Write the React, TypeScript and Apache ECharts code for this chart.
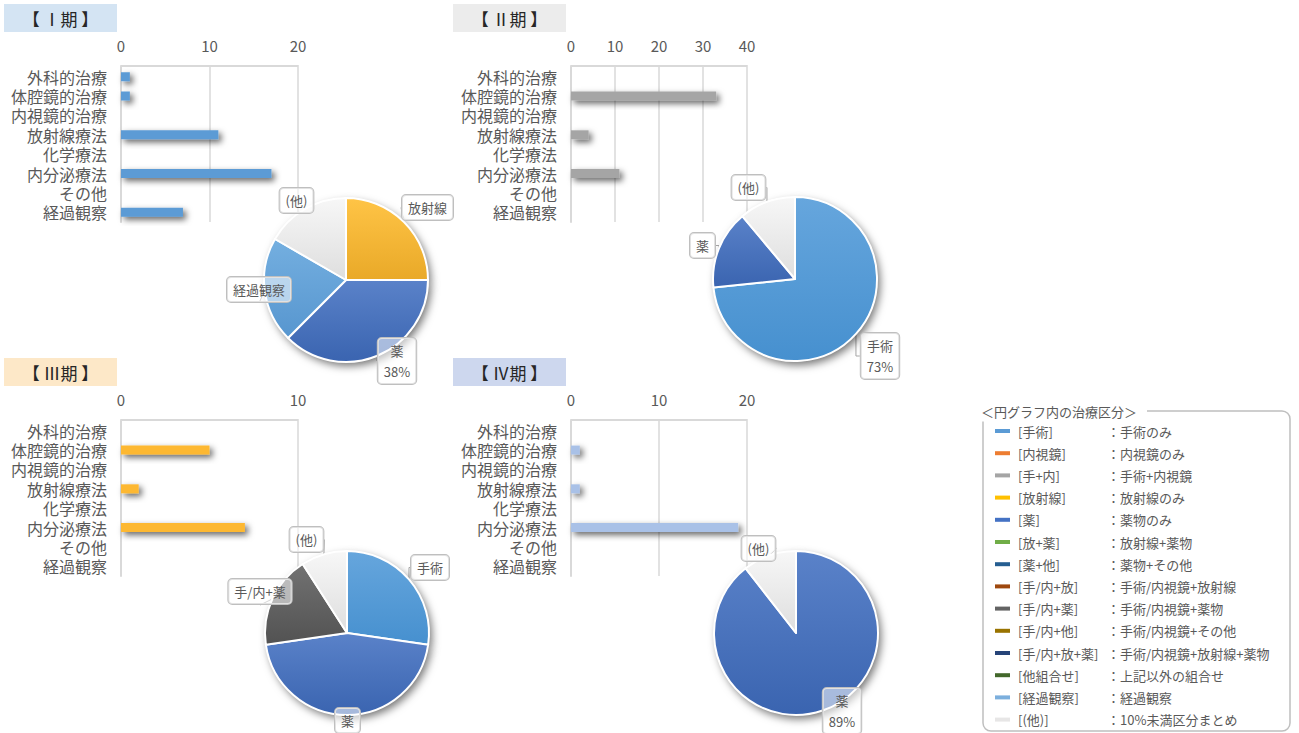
import React, { useEffect, useRef } from 'react';
import * as echarts from 'echarts';

// ---------- data ----------
const categories = ['外科的治療', '体腔鏡的治療', '内視鏡的治療', '放射線療法', '化学療法', '内分泌療法', 'その他', '経過観察'];
const stageTitles = ['【 Ⅰ期 】', '【 Ⅱ期 】', '【 Ⅲ期 】', '【 Ⅳ期 】'];

const stage1Bars = [1, 1, 0, 11, 0, 17, 0, 7];
const stage2Bars = [0, 33, 0, 4, 0, 11, 0, 0];
const stage3Bars = [0, 5, 0, 1, 0, 7, 0, 0];
const stage4Bars = [0, 1, 0, 1, 0, 19, 0, 0];
const axisMax = [20, 40, 10, 20];
const axisInterval = [10, 10, 10, 10];

const stage1PieNames = ['放射線', '薬', '経過観察', '(他)'];
const stage1PieValues = [6, 9, 5, 4];
const stage2PieNames = ['手術', '薬', '(他)'];
const stage2PieValues = [33, 7, 5];
const stage3PieNames = ['手術', '薬', '手/内+薬', '(他)'];
const stage3PieValues = [3, 5, 2, 1];
const stage4PieNames = ['薬', '(他)'];
const stage4PieValues = [17, 2];
// whether the largest slice's percentage is visible in the picture
const showPercent = [true, true, false, true];

const legendKeys = ['[手術]', '[内視鏡]', '[手+内]', '[放射線]', '[薬]', '[放+薬]', '[薬+他]', '[手/内+放]', '[手/内+薬]', '[手/内+他]', '[手/内+放+薬]', '[他組合せ]', '[経過観察]', '[(他)]'];
const legendDesc = ['手術のみ', '内視鏡のみ', '手術+内視鏡', '放射線のみ', '薬物のみ', '放射線+薬物', '薬物+その他', '手術/内視鏡+放射線', '手術/内視鏡+薬物', '手術/内視鏡+その他', '手術/内視鏡+放射線+薬物', '上記以外の組合せ', '経過観察', '10%未満区分まとめ'];

// ---------- styles / layout ----------
const legendColors = ['#5b9bd5', '#ed7d31', '#a5a5a5', '#ffc000', '#4472c4', '#70ad47', '#255e91', '#9e480e', '#636363', '#997300', '#264478', '#43682b', '#7cafdd', '#e7e6e6'];
const barColors = ['#5b9bd5', '#a5a5a5', '#fdb833', '#a9c1e7'];
const titleColors = ['#d4e4f3', '#ececec', '#fde8c8', '#cdd7ee'];
const titleBoxes = [[4, 4], [453, 4], [4, 358], [453, 358]];
const gridRects = [
  { left: 121, top: 67, width: 177, height: 155 },
  { left: 571, top: 67, width: 176, height: 155 },
  { left: 121, top: 421, width: 177, height: 155 },
  { left: 571, top: 421, width: 176, height: 155 },
];
const pieCenters = [[346, 280], [795, 279], [347, 633], [796, 633]];
const pieRadius = 82;
const labelPositions = [
  [[427.5, 195], [397, 338], [259, 277], [296.5, 188]],
  [[880, 333], [702.5, 233], [748.5, 175]],
  [[430, 555], [347.5, 708], [260, 579], [306.5, 527]],
  [[842, 688], [758.5, 536]],
];
const sliceGradients: Record<string, [string, string]> = {
  '手術': ['#66a6dd', '#4690cf'],
  '薬': ['#5a82c9', '#3a64b0'],
  '放射線': ['#ffc446', '#e9a928'],
  '経過観察': ['#74afe0', '#5796cf'],
  '(他)': ['#f7f7f7', '#dedede'],
  '手/内+薬': ['#727272', '#525252'],
};

const FONT = "'Noto Sans CJK JP', 'Noto Sans', sans-serif";

export default function App() {
  const ref = useRef<HTMLDivElement>(null);
  useEffect(() => {
    if (!ref.current) return;
    const chart = echarts.init(ref.current, undefined, { renderer: 'svg' });
    const bars = [stage1Bars, stage2Bars, stage3Bars, stage4Bars];
    const pieNames = [stage1PieNames, stage2PieNames, stage3PieNames, stage4PieNames];
    const pieValues = [stage1PieValues, stage2PieValues, stage3PieValues, stage4PieValues];

    const grid = gridRects.map((g) => ({ ...g, containLabel: false }));
    const xAxis = gridRects.map((_, i) => ({
      type: 'value',
      gridIndex: i,
      position: 'top',
      offset: 1,
      min: 0,
      max: axisMax[i],
      interval: axisInterval[i],
      axisLine: { show: true, lineStyle: { color: '#d9d9d9', width: 2 } },
      axisTick: { show: false },
      splitLine: { show: true, lineStyle: { color: '#d9d9d9', width: 1.5 } },
      axisLabel: { fontSize: 15, color: '#595959', margin: 13, fontFamily: FONT },
    }));
    const yAxis = gridRects.map((_, i) => ({
      type: 'category',
      gridIndex: i,
      inverse: true,
      data: categories,
      axisLine: { show: true, lineStyle: { color: '#d9d9d9', width: 2 } },
      axisTick: { show: false },
      axisLabel: { interval: 0, fontSize: 16, lineHeight: 17, color: '#595959', margin: 14, fontFamily: FONT },
    }));

    const series: any[] = [];
    bars.forEach((d, i) => {
      series.push({
        type: 'bar',
        xAxisIndex: i,
        yAxisIndex: i,
        data: d,
        barWidth: 9,
        silent: true,
        itemStyle: {
          color: barColors[i],
          shadowBlur: 6,
          shadowColor: 'rgba(0,0,0,0.6)',
          shadowOffsetX: 3,
          shadowOffsetY: 3,
        },
      });
    });

    pieNames.forEach((names, i) => {
      const vals = pieValues[i];
      const maxV = Math.max(...vals);
      // shadow layer
      series.push({
        type: 'pie',
        center: pieCenters[i],
        radius: pieRadius,
        startAngle: 90,
        silent: true,
        label: { show: false },
        labelLine: { show: false },
        data: names.map((n, j) => ({ name: n, value: vals[j] })),
        itemStyle: {
          color: '#ffffff',
          borderColor: '#ffffff',
          borderWidth: 0,
          shadowBlur: 8,
          shadowColor: 'rgba(0,0,0,0.55)',
          shadowOffsetX: 3,
          shadowOffsetY: 4,
        },
      });
      series.push({
        type: 'pie',
        center: pieCenters[i],
        radius: pieRadius,
        startAngle: 90,
        silent: true,
        avoidLabelOverlap: false,
        minShowLabelAngle: 0,
        data: names.map((n, j) => ({
          name: n,
          value: vals[j],
          itemStyle: {
            color: new echarts.graphic.LinearGradient(0, 0, 0, 1, [
              { offset: 0, color: sliceGradients[n][0] },
              { offset: 1, color: sliceGradients[n][1] },
            ]),
          },
        })),
        itemStyle: { borderColor: '#ffffff', borderWidth: 2 },
        label: {
          show: true,
          position: 'outside',
          fontFamily: FONT,
          fontSize: 13,
          color: '#595959',
          lineHeight: 21,
          padding: [2, 6],
          align: 'center',
          backgroundColor: 'rgba(255,255,255,0.55)',
          borderColor: '#bfbfbf',
          borderWidth: 1,
          borderRadius: 4,
          formatter: (p: any) =>
            p.value === maxV && showPercent[i] ? `${p.name}\n${Math.round(p.percent)}%` : p.name,
        },
        labelLine: { show: true, length: 4, length2: 4, lineStyle: { color: '#a6a6a6', width: 1 } },
        labelLayout: (params: any) => {
          const pos = labelPositions[i][params.dataIndex];
          return { x: pos[0], y: pos[1], align: 'center', verticalAlign: 'top' };
        },
      });
    });

    legendKeys.forEach((k, i) => {
      series.push({
        type: 'line',
        name: k,
        xAxisIndex: 0,
        yAxisIndex: 0,
        data: [],
        color: legendColors[i],
        itemStyle: { color: legendColors[i] },
        lineStyle: { color: legendColors[i] },
      });
    });

    const graphic: any[] = [];
    titleBoxes.forEach((b, i) => {
      graphic.push({
        type: 'rect',
        shape: { x: b[0], y: b[1], width: 113, height: 28 },
        style: { fill: titleColors[i] },
        silent: true,
      });
      graphic.push({
        type: 'text',
        x: b[0] + 56.5,
        y: b[1] + 14,
        style: { text: stageTitles[i], fontSize: 17, fill: '#262626', align: 'center', verticalAlign: 'middle', fontFamily: FONT },
        silent: true,
      });
    });
    graphic.push({
      type: 'rect',
      shape: { x: 983, y: 411, width: 307, height: 320, r: 8 },
      style: { fill: 'none', stroke: '#bfbfbf', lineWidth: 1.5 },
      silent: true,
    });
    graphic.push({
      type: 'text',
      x: 978,
      y: 411,
      style: {
        text: '＜円グラフ内の治療区分＞',
        fontSize: 13,
        fill: '#595959',
        fontFamily: FONT,
        align: 'left',
        verticalAlign: 'middle',
        backgroundColor: '#ffffff',
        padding: [4, 10, 4, 3],
      },
      silent: true,
    });

    chart.setOption({
      animation: false,
      textStyle: { fontFamily: FONT },
      grid,
      xAxis,
      yAxis,
      legend: {
        show: true,
        orient: 'vertical',
        left: 995,
        top: 422,
        padding: 0,
        icon: 'rect',
        itemWidth: 15,
        itemHeight: 4,
        itemGap: 4.2,
        selectedMode: false,
        data: legendKeys,
        formatter: (name: string) => `{k|${name}}{d|：${legendDesc[legendKeys.indexOf(name)]}}`,
        textStyle: {
          color: '#595959',
          fontSize: 13,
          lineHeight: 18,
          fontFamily: FONT,
          rich: {
            k: { width: 89, padding: [0, 0, 0, 3], fontSize: 13, color: '#595959', lineHeight: 18, fontFamily: FONT },
            d: { fontSize: 13, color: '#595959', lineHeight: 18, fontFamily: FONT },
          },
        },
      },
      graphic,
      series,
    });
    return () => chart.dispose();
  }, []);
  return <div ref={ref} style={{ position: 'fixed', left: 0, top: 0, width: 1299, height: 733, background: '#fff' }} />;
}
